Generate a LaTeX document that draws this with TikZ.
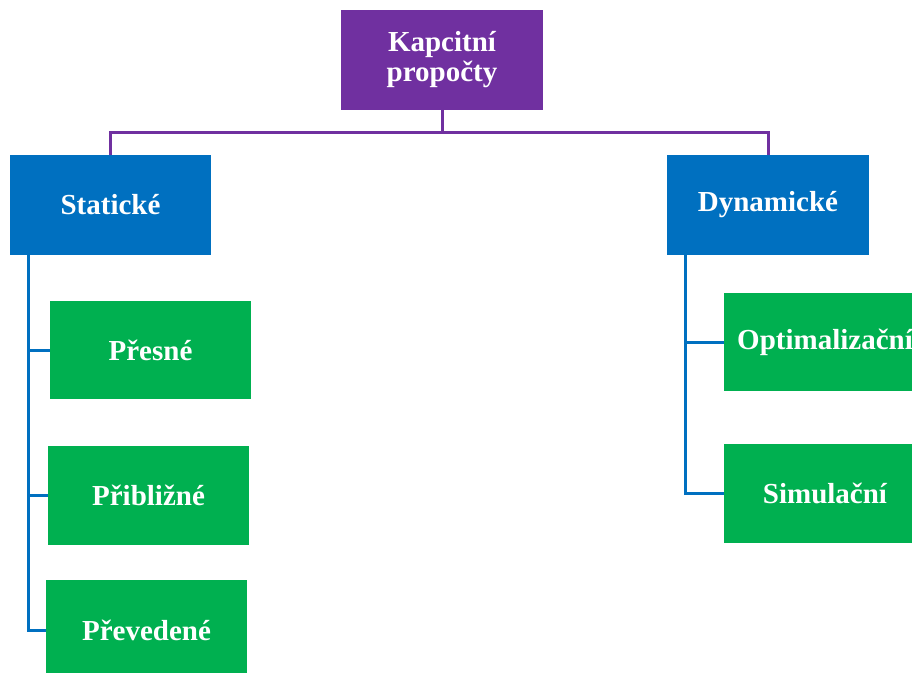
\documentclass[tikz,border=0pt]{standalone}
\usepackage{fontspec}
\setmainfont{Liberation Serif}
\definecolor{rootpurple}{HTML}{7030A0}
\definecolor{catblue}{HTML}{0070C0}
\definecolor{leafgreen}{HTML}{00B050}
\begin{document}
\begin{tikzpicture}[x=1pt,y=-1pt,
  box/.style={rectangle, inner sep=0pt, text=white, align=center,
    font=\fontsize{29}{30}\selectfont\bfseries},
  rootbox/.style={box, fill=rootpurple, minimum width=202pt, minimum height=100pt},
  catbox/.style={box, fill=catblue, minimum width=201pt, minimum height=100pt},
  leafbox/.style={box, fill=leafgreen, minimum width=201pt, minimum height=99pt},
  rootline/.style={draw=rootpurple, line width=3pt},
  catline/.style={draw=catblue, line width=3pt}]
\useasboundingbox (0,0) rectangle (912,672);
\clip (0,0) rectangle (912,672);

% hierarchy boxes
\node[rootbox] (root) at (442,60) {Kapcitní\\propočty};
\node[catbox] (stat) at (110.5,205) {Statické};
\node[catbox, minimum width=202pt] (dyn) at (768,205) {Dynamické};

\node[leafbox, minimum height=98pt] (pres) at (150.5,350) {Přesné};
\node[leafbox] (pribl) at (148.5,495.5) {Přibližné};
\node[leafbox, minimum height=100pt] (preved) at (146.5,630) {Převedené};

\node[leafbox, minimum width=202pt, minimum height=98pt] (opt) at (825,342) {Optimalizační};
\node[leafbox, minimum width=202pt] (sim) at (825,493.5) {Simulační};

% root to categories
\coordinate (rootjoin) at ([yshift=-22pt]root.south);
\draw[rootline] (root.south) -- (rootjoin) -| (stat.north);
\draw[rootline] (rootjoin) -| (dyn.north);

% categories to leaves
\coordinate (stattrunk) at ([xshift=19pt]stat.south west);
\coordinate (dyntrunk) at ([xshift=19pt]dyn.south west);
\draw[catline] (stattrunk) |- (pres.west);
\draw[catline] (stattrunk) |- (pribl.west);
\draw[catline] (stattrunk) |- (preved.west);
\draw[catline] (dyntrunk) |- (opt.west);
\draw[catline] (dyntrunk) |- (sim.west);
\end{tikzpicture}
\end{document}
